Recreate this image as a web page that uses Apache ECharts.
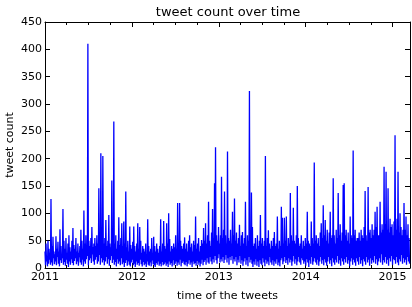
<!DOCTYPE html>
<html>
<head>
<meta charset="utf-8">
<script src="https://cdn.jsdelivr.net/npm/echarts@6/dist/echarts.min.js"></script>
<style>html,body{margin:0;padding:0;background:#fff;}#c{width:412px;height:307px;}</style>
</head>
<body>
<div id="c"></div>
<script>
// Period covered (fractional years) and tick labels
const startYear = 2011;
const endYear = 2015.2;
const yearTicks = [2011, 2012, 2013, 2014, 2015];
const countTicks = [0, 50, 100, 150, 200, 250, 300, 350, 400, 450];

// Estimated daily tweet counts, sampled as high/low pairs (about 4 days per pair)
const highCounts = [
  30,45,22,50,35,28,126,40,57,30,
  25,58,35,48,30,71,40,25,108,50,
  35,55,28,45,60,38,30,50,73,42,
  35,55,30,45,28,40,70,50,35,105,
  45,60,35,410,50,40,55,75,38,45,
  55,40,60,45,146,50,210,60,205,45,
  55,88,40,50,97,45,38,160,55,268,
  45,60,35,50,93,42,55,82,40,85,
  45,140,38,50,30,76,42,35,48,76,
  40,30,45,82,35,75,50,28,40,35,
  30,45,25,89,40,30,35,55,28,57,
  40,30,45,35,28,40,89,30,45,86,
  40,35,82,45,100,53,30,40,35,45,
  38,60,35,119,45,119,50,40,35,45,
  56,35,45,30,50,60,38,45,30,50,
  42,94,35,45,55,30,40,51,45,73,
  50,82,45,60,121,50,40,65,108,55,
  155,221,60,50,75,45,60,167,55,70,
  140,60,45,213,55,50,70,45,103,60,
  127,50,65,45,55,79,40,60,66,45,
  55,121,40,60,50,324,60,138,75,40,
  45,55,35,60,40,50,97,45,55,40,
  50,205,40,55,69,45,35,50,40,55,
  66,40,45,94,35,50,40,112,92,45,
  92,50,94,40,55,45,137,60,50,110,
  50,45,60,150,55,40,45,60,35,50,
  40,55,45,103,50,45,40,85,55,45,
  193,50,60,45,55,40,65,82,55,115,
  60,88,50,70,45,65,103,55,60,164,
  60,45,70,55,137,60,80,50,65,152,
  155,60,70,50,65,45,94,60,55,215,
  60,70,50,55,55,65,50,70,60,55,
  75,141,60,50,148,65,70,55,80,60,
  70,103,75,112,60,60,121,65,80,70,
  185,80,176,70,146,65,90,75,80,60,
  85,243,70,90,176,65,100,75,60,70,
  119,70,94,60,80,55
];
const lowCounts = [
  5,12,3,8,15,6,10,4,18,7,
  12,5,20,8,3,14,9,18,6,11,
  4,15,8,2,12,6,16,9,5,13,
  18,7,12,4,20,10,6,15,3,12,
  8,16,22,5,14,18,9,25,12,6,
  15,20,8,12,24,6,18,10,14,5,
  12,20,8,16,4,14,22,9,15,6,
  11,3,16,8,12,5,18,7,10,2,
  9,14,4,12,6,3,10,15,5,8,
  2,12,6,9,4,15,7,3,11,5,
  8,2,12,6,4,10,3,14,7,5,
  2,9,6,12,4,8,3,11,5,7,
  10,4,8,2,12,6,9,3,14,5,
  8,12,4,10,6,15,3,9,12,7,
  5,11,3,8,14,6,10,2,12,7,
  9,4,13,6,10,3,8,15,5,11,
  14,6,18,10,8,20,12,7,16,10,
  22,14,8,18,25,10,16,12,20,9,
  15,24,10,18,6,20,14,22,8,16,
  12,20,5,15,10,22,8,14,4,12,
  18,6,14,3,20,10,15,8,2,12,
  6,16,4,12,2,14,8,5,18,10,
  3,15,8,12,5,20,10,6,14,4,
  12,8,16,5,10,3,14,18,7,12,
  20,9,14,6,18,10,15,4,12,22,
  8,16,5,12,20,10,6,18,14,8,
  12,4,16,10,2,14,8,20,6,12,
  18,10,6,15,4,12,20,8,14,5,
  16,10,4,12,20,8,14,3,18,10,
  6,15,10,22,8,14,4,18,12,6,
  16,10,20,8,14,3,12,18,6,15,
  10,4,18,12,6,20,8,14,3,16,
  12,6,20,10,15,4,18,8,14,10,
  22,8,16,5,12,18,10,25,6,14,
  10,20,8,15,4,18,12,22,6,16,
  14,8,20,10,5,16,12,24,8,18,
  10,15,6,20,12,8
];

// Build the time series: each pair = one high sample then one low sample
const step = (endYear - startYear) / highCounts.length;
const seriesData = [];
for (let i = 0; i < highCounts.length; i++) {
  seriesData.push([startYear + i * step, highCounts[i]]);
  seriesData.push([startYear + (i + 0.5) * step, lowCounts[i]]);
}

const FONT = 'DejaVu Sans';
function xAxisCfg(pos, showLabel) {
  return {
    type: 'value', position: pos, min: startYear, max: endYear, interval: 1,
    axisLine: { show: true, onZero: false, lineStyle: { color: '#000', width: 1 } },
    axisTick: { show: true, inside: true, length: 5, lineStyle: { color: '#000' } },
    minorTick: { show: true, splitNumber: 4, length: 3, lineStyle: { color: '#000' } },
    splitLine: { show: false },
    axisLabel: { show: showLabel, color: '#000', fontSize: 11, fontFamily: FONT, margin: 4,
      formatter: v => yearTicks.includes(v) ? String(v) : '' },
    name: showLabel ? 'time of the tweets' : '',
    nameLocation: 'middle', nameGap: 23, nameMoveOverlap: false,
    nameTextStyle: { color: '#000', fontSize: 11, fontFamily: FONT }
  };
}
function yAxisCfg(pos, showLabel) {
  return {
    type: 'value', position: pos, min: countTicks[0], max: countTicks[countTicks.length - 1], interval: 50,
    axisLine: { show: true, onZero: false, lineStyle: { color: '#000', width: 1 } },
    axisTick: { show: true, inside: true, length: 5, lineStyle: { color: '#000' } },
    splitLine: { show: false },
    axisLabel: { show: showLabel, color: '#000', fontSize: 11, fontFamily: FONT, margin: 3 },
    name: showLabel ? 'tweet count' : '',
    nameLocation: 'middle', nameGap: 29, nameRotate: 90, nameMoveOverlap: false,
    nameTextStyle: { color: '#000', fontSize: 11, fontFamily: FONT }
  };
}

const chart = echarts.init(document.getElementById('c'), null, { renderer: 'canvas' });
chart.setOption({
  animation: false,
  backgroundColor: '#fff',
  grid: { left: 45, right: 2, top: 22, bottom: 39, containLabel: false, outerBoundsMode: 'none' },
  graphic: [{
    type: 'text', x: 228, y: 13,
    style: { text: 'tweet count over time', fill: '#000', font: '13px "DejaVu Sans"',
      textAlign: 'center', textVerticalAlign: 'middle' }
  }],
  xAxis: [xAxisCfg('bottom', true), xAxisCfg('top', false)],
  yAxis: [yAxisCfg('left', true), yAxisCfg('right', false)],
  series: [{
    type: 'line', data: seriesData, xAxisIndex: 0, yAxisIndex: 0,
    showSymbol: false, symbol: 'none', smooth: false,
    lineStyle: { color: '#0000ff', width: 1.3 },
    clip: true
  }]
});
</script>
</body>
</html>
